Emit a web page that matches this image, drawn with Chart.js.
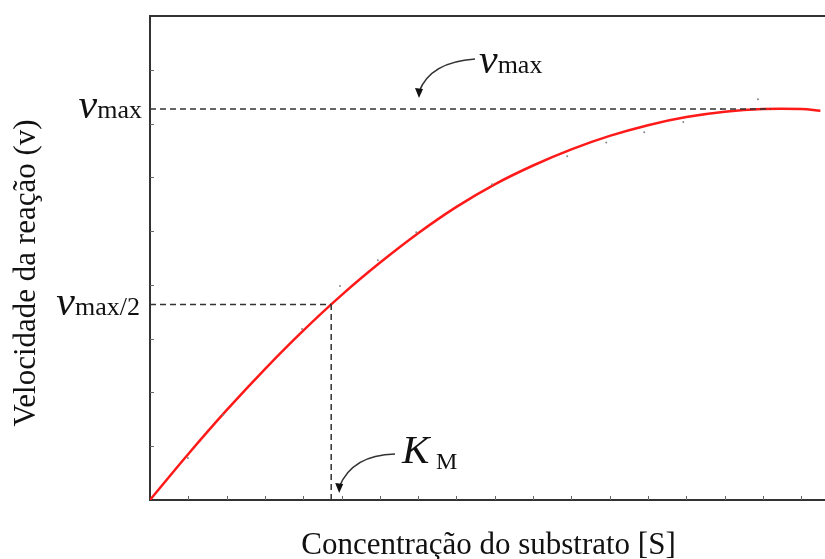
<!DOCTYPE html>
<html>
<head>
<meta charset="utf-8">
<script src="https://cdn.jsdelivr.net/npm/chart.js@4.4.1/dist/chart.umd.min.js"></script>
<style>
  body { margin: 0; background: #fff; }
  #wrap { width: 825px; height: 559px; position: relative; }
</style>
</head>
<body>
<div id="wrap"><canvas id="chart"></canvas></div>
<script>
// Substrate concentration (arbitrary units) and fitted reaction velocity
const concentration = [0, 1, 2, 3, 4, 5, 6, 7, 8, 9, 10, 11, 12, 13, 14, 15, 16, 17, 17.5];
const velocity      = [0, 0.855, 1.67, 2.435, 3.15, 3.81, 4.41, 4.96, 5.45, 5.87, 6.22, 6.52, 6.77, 6.97, 7.12, 7.22, 7.27, 7.27, 7.24];

// Measured points (tiny grey dots)
const pointX = [0.99, 1.91, 3.97, 4.96, 5.95, 6.95, 8.93, 10.89, 11.91, 12.90, 13.92, 14.91, 15.87];
const pointY = [0.78, 1.58, 3.18, 3.98, 4.46, 4.98, 5.87, 6.39, 6.65, 6.84, 7.03, 7.27, 7.45];

// Reference values
const VMAX = 7.27;
const KM = 4.73;
const vmaxLineEnd = 16.2;

// Axis ranges / tick steps
const xMax = 17.62;
const yMax = 9;
const xTicks = [1, 2, 3, 4, 5, 6, 7, 8, 9, 10, 11, 12, 13, 14, 15, 16, 17];
const yTicks = [1, 2, 3, 4, 5, 6, 7, 8];

const toXY = (xs, ys) => xs.map((x, i) => ({ x, y: ys[i] }));

const dashStyle = {
  borderColor: '#333',
  borderWidth: 1.5,
  borderDash: [6, 4],
  pointRadius: 0,
  tension: 0,
  fill: false
};

const serif = "'Liberation Serif', 'DejaVu Serif', serif";

// Draws labels, arrows, inward ticks and top frame line
const decorations = {
  id: 'decorations',
  afterDraw(chart) {
    const { ctx, chartArea: a, scales: { x, y } } = chart;
    ctx.save();

    // top frame line
    ctx.strokeStyle = '#333';
    ctx.lineWidth = 2;
    ctx.beginPath();
    ctx.moveTo(a.left, a.top);
    ctx.lineTo(a.right, a.top);
    ctx.stroke();

    // inward tick marks
    ctx.strokeStyle = '#666';
    ctx.lineWidth = 1;
    xTicks.forEach(t => {
      const px = Math.round(x.getPixelForValue(t)) + 0.5;
      ctx.beginPath();
      ctx.moveTo(px, a.bottom);
      ctx.lineTo(px, a.bottom - 4);
      ctx.stroke();
    });
    yTicks.forEach(t => {
      const py = Math.round(y.getPixelForValue(t)) + 0.5;
      ctx.beginPath();
      ctx.moveTo(a.left, py);
      ctx.lineTo(a.left + 4, py);
      ctx.stroke();
    });

    ctx.fillStyle = '#111';
    ctx.textBaseline = 'alphabetic';

    // "v" + "max" piece of text
    function vmaxText(rx, baseline, suffix, align) {
      ctx.font = 'italic 42px ' + serif;
      const wv = ctx.measureText('v').width;
      ctx.font = '26px ' + serif;
      const wm = ctx.measureText('max' + suffix).width;
      const left = align === 'right' ? rx - wv - wm : rx;
      ctx.font = 'italic 42px ' + serif;
      ctx.textAlign = 'left';
      ctx.fillText('v', left, baseline);
      ctx.font = '26px ' + serif;
      ctx.fillText('max' + suffix, left + wv, baseline);
    }

    const yV = y.getPixelForValue(VMAX);
    const yV2 = y.getPixelForValue(VMAX / 2);
    vmaxText(a.left - 8, yV + 9, '', 'right');
    vmaxText(a.left - 10, yV2 + 10, '/2', 'right');

    // annotation near the vmax line
    vmaxText(479, 73, '', 'left');
    arrow(475, 59, 430, 62, 419, 98);

    // Km annotation
    ctx.font = 'italic 41px ' + serif;
    ctx.fillText('K', 402, 463);
    ctx.font = '24px ' + serif;
    ctx.fillText('M', 436, 469);
    const kmX = x.getPixelForValue(KM);
    arrow(395, 454, 352, 455, kmX + 8, a.bottom - 7);

    // axis titles
    ctx.font = '31px ' + serif;
    ctx.textAlign = 'center';
    ctx.fillText('Concentração do substrato [S]', (a.left + a.right) / 2 + 1, 554);
    ctx.save();
    ctx.translate(35, 273);
    ctx.rotate(-Math.PI / 2);
    ctx.fillText('Velocidade da reação (v)', 0, 0);
    ctx.restore();

    ctx.restore();

    function arrow(x0, y0, cx, cy, x1, y1) {
      ctx.strokeStyle = '#333';
      ctx.lineWidth = 1.5;
      ctx.beginPath();
      ctx.moveTo(x0, y0);
      ctx.quadraticCurveTo(cx, cy, x1, y1 - 6);
      ctx.stroke();
      ctx.fillStyle = '#111';
      ctx.beginPath();
      ctx.moveTo(x1, y1);
      ctx.lineTo(x1 - 4, y1 - 10);
      ctx.lineTo(x1 + 4, y1 - 9);
      ctx.closePath();
      ctx.fill();
    }
  }
};

new Chart(document.getElementById('chart'), {
  type: 'line',
  data: {
    datasets: [
      { data: [{ x: 0, y: VMAX }, { x: vmaxLineEnd, y: VMAX }], ...dashStyle },
      { data: [{ x: 0, y: VMAX / 2 }, { x: KM, y: VMAX / 2 }], ...dashStyle },
      { data: [{ x: KM, y: 0 }, { x: KM, y: VMAX / 2 }], ...dashStyle },
      {
        type: 'scatter',
        data: toXY(pointX, pointY),
        pointRadius: 1,
        pointBackgroundColor: '#888',
        pointBorderWidth: 0
      },
      {
        data: toXY(concentration, velocity),
        borderColor: '#ff1a1a',
        borderWidth: 2.5,
        pointRadius: 0,
        tension: 0.4,
        fill: false
      }
    ]
  },
  options: {
    responsive: true,
    maintainAspectRatio: false,
    animation: false,
    layout: { autoPadding: false, padding: { left: 150, top: 16, right: 0, bottom: 59 } },
    plugins: { legend: { display: false }, tooltip: { enabled: false } },
    scales: {
      x: {
        type: 'linear',
        min: 0,
        max: xMax,
        ticks: { display: false },
        grid: { display: false, drawTicks: false },
        border: { display: true, color: '#333', width: 2 }
      },
      y: {
        min: 0,
        max: yMax,
        ticks: { display: false },
        grid: { display: false, drawTicks: false },
        border: { display: true, color: '#333', width: 2 }
      }
    }
  },
  plugins: [decorations]
});
</script>
</body>
</html>
